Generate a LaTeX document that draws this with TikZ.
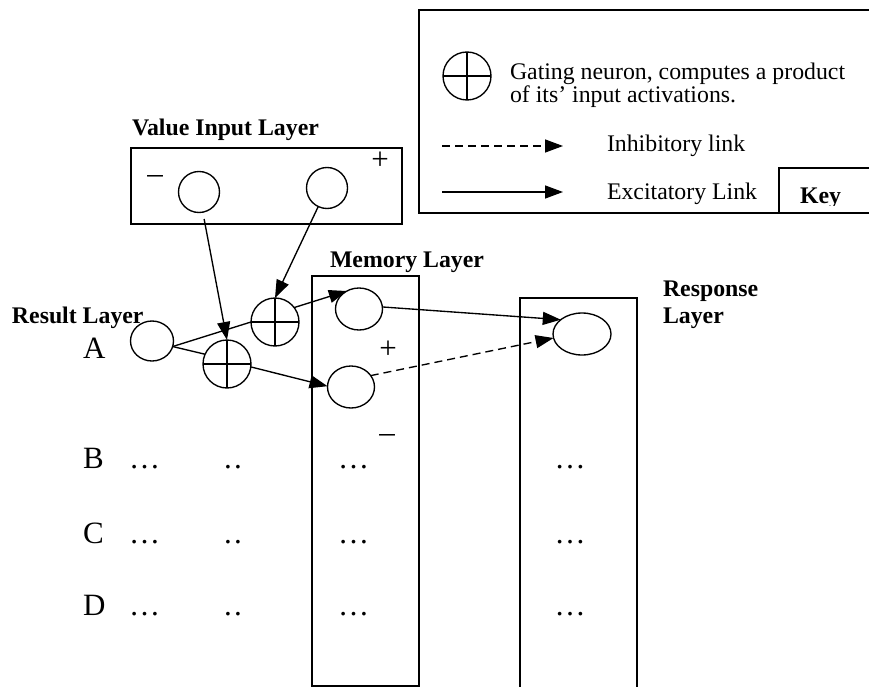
\documentclass[tikz,border=0pt]{standalone}
\usepackage{fontspec}
\setmainfont{Liberation Serif}
\usetikzlibrary{shapes.geometric,arrows.meta}

\begin{document}
\begin{tikzpicture}[x=1pt,y=-1pt,
  line width=1.35pt,
  every node/.style={inner sep=0pt, outer sep=0pt},
  neuron/.style={draw, ellipse, line width=1.35pt},
  gate/.style={draw, circle, minimum size=48pt, line width=1.35pt,
    path picture={\draw[line width=1.35pt]
      (path picture bounding box.north) -- (path picture bounding box.south)
      (path picture bounding box.west) -- (path picture bounding box.east);}},
  link/.style={-{Triangle[length=18pt,width=13pt]}},
  inhib/.style={link, dash pattern=on 8pt off 5pt},
  lbl/.style={font=\fontsize{23.8}{26}\selectfont\bfseries, anchor=base west},
  keytxt/.style={font=\fontsize{23.8}{26}\selectfont, anchor=base west},
  rowlbl/.style={font=\fontsize{31}{34}\selectfont, anchor=base west},
  dots/.style={font=\fontsize{31}{34}\selectfont, anchor=base},
  sgn/.style={font=\fontsize{31}{34}\selectfont, anchor=base},
]
\useasboundingbox (0,0) rectangle (869,687);

% ---- key ----
\draw (419,10) rectangle (885,213);
\draw (779,168) rectangle (885,213);
\begin{scope}
  \clip (779,168) rectangle (885,205);
  \node[lbl] (keyword) at (800,203) {Key};
\end{scope}
\node[gate] (kg) at (467,76) {};
\node[keytxt] (kt1) at (510,80) {Gating neuron, computes a product};
\node[keytxt] (kt2) at (510,103) {of its’ input activations.};
\coordinate (kd1) at (442,146);
\coordinate (kd2) at (563,146);
\coordinate (ke1) at (442,192);
\coordinate (ke2) at (563,192);
\draw[inhib] (kd1) -- (kd2);
\draw[link] (ke1) -- (ke2);
\node[keytxt] (kinh) at (607,152) {Inhibitory link};
\node[keytxt] (kexc) at (607,199) {Excitatory Link};

% ---- layer frames ----
\draw (131,148) rectangle (402,224);
\draw (312,276) rectangle (419,686);
\draw (520,700) -- (520,298) -- (637,298) -- (637,700);

% ---- layer titles ----
\node[lbl] (tval) at (132,136) {Value Input Layer};
\node[lbl] (tres) at (12,323) {Result Layer};
\node[lbl] (tmem) at (330,267) {Memory Layer};
\node[lbl] (tresp1) at (663,296) {Response};
\node[lbl] (tresp2) at (663,323) {Layer};

% ---- signs ----
\node[sgn] (vminus) at (155,183) {–};
\node[sgn] (vplus) at (380,170) {+};
\node[sgn] (mplus) at (388,358) {+};
\node[sgn] (mminus) at (387,442) {–};

% ---- neurons ----
\node[neuron, minimum width=41pt, minimum height=41pt] (v1) at (199,192) {};
\node[neuron, minimum width=41pt, minimum height=41pt] (v2) at (327,188) {};
\node[neuron, minimum width=43pt, minimum height=40pt] (a) at (152,341) {};
\node[gate] (g1) at (227,364) {};
\node[gate] (g2) at (275,322) {};
\node[neuron, minimum width=47pt, minimum height=42pt] (m1) at (359,309) {};
\node[neuron, minimum width=47pt, minimum height=42pt] (m2) at (351,387) {};
\node[neuron, minimum width=58pt, minimum height=42pt] (r) at (582,334) {};

% ---- connections ----
\draw[link, shorten <=7pt] (v1) -- (g1.north);
\draw[link] (v2) -- (g2.north);
\draw (a.-15) -- (g2.west);
\draw (a.-15) -- (g1.156);
\draw[link] (g2.37) -- (m1.124);
\draw[link] (g1.-7) -- (m2.178);
\draw[link] (m1.5) -- (r.146);
\draw[inhib] (m2.30) -- (r.188);

% ---- rows ----
\node[rowlbl] (ra) at (83,358) {A};
\node[rowlbl] (rb) at (83,468) {B};
\node[rowlbl] (rc) at (83,543) {C};
\node[rowlbl] (rd) at (83,615) {D};
\foreach \y/\n in {468/b,543/c,615/d}{
  \node[dots] (d1\n) at (144.5,\y) {…};
  \node[dots] (d2\n) at (233,\y) {.\kern2.5pt.};
  \node[dots] (d3\n) at (353.5,\y) {…};
  \node[dots] (d4\n) at (570,\y) {…};
}
\end{tikzpicture}
\end{document}
